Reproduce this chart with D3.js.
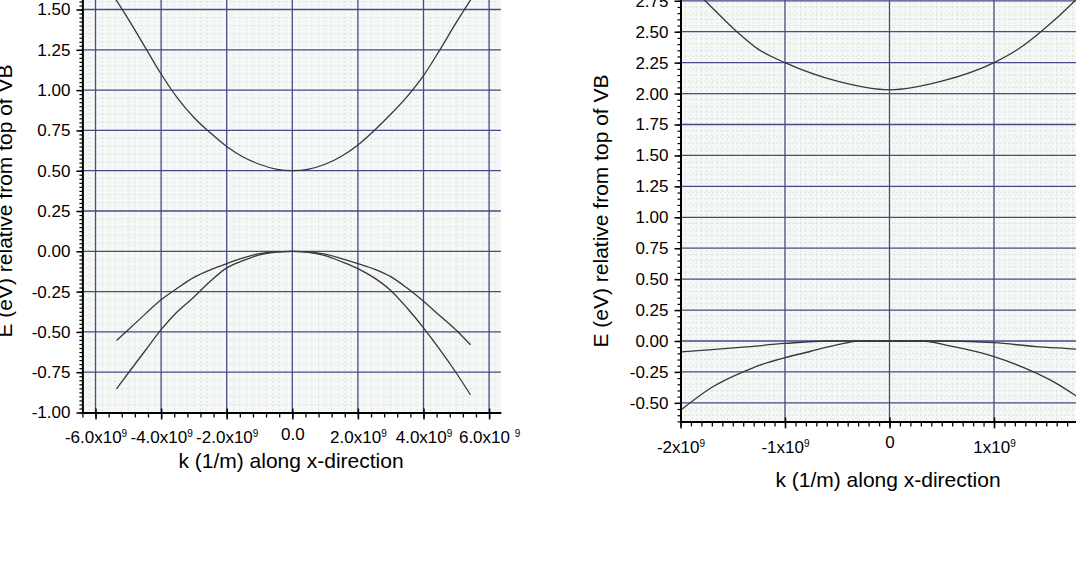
<!DOCTYPE html>
<html>
<head>
<meta charset="utf-8">
<script src="https://cdn.jsdelivr.net/npm/d3@7"></script>
<style>
  body { margin: 0; background: #fff; }
  svg { display: block; font-family: "Liberation Sans", Arial, sans-serif; }
</style>
</head>
<body>
<svg width="1076" height="580"></svg>
<script>
// ---- left panel data (k in units of 1e9 1/m, E in eV) ----
let leftCbK = [-5.5, -5.0, -4.5, -4.0, -3.5, -3.0, -2.5, -2.0, -1.5, -1.0, -0.5, 0, 0.5, 1.0, 1.5, 2.0, 2.5, 3.0, 3.5, 4.0, 4.5, 5.0, 5.5];
let leftCbE = [1.60, 1.44, 1.27, 1.10, 0.95, 0.83, 0.735, 0.65, 0.585, 0.54, 0.51, 0.50, 0.51, 0.54, 0.59, 0.66, 0.75, 0.85, 0.96, 1.09, 1.25, 1.42, 1.58];

let leftLhK = [-5.36, -5.0, -4.7, -4.0, -3.55, -3.0, -2.5, -2.0, -1.5, -1.0, -0.5, 0, 0.5, 1.0, 1.5, 2.0, 2.5, 3.0, 3.5, 4.0, 4.5, 5.0, 5.43];
let leftLhE = [-0.553, -0.486, -0.43, -0.30, -0.235, -0.162, -0.115, -0.076, -0.041, -0.014, -0.003, 0, -0.004, -0.018, -0.045, -0.076, -0.11, -0.157, -0.228, -0.31, -0.40, -0.49, -0.58];

let leftHhK = [-5.36, -5.0, -4.5, -4.0, -3.5, -3.09, -2.5, -2.0, -1.5, -1.0, -0.5, 0, 0.5, 1.0, 1.5, 2.0, 2.5, 3.0, 3.5, 4.0, 4.5, 5.0, 5.43];
let leftHhE = [-0.853, -0.755, -0.62, -0.486, -0.373, -0.30, -0.186, -0.103, -0.058, -0.022, -0.005, 0, -0.006, -0.027, -0.064, -0.107, -0.165, -0.243, -0.352, -0.475, -0.61, -0.755, -0.89];

let leftXTicks = [-6, -4, -2, 0, 2, 4, 6];
let leftXLabels = ["-6.0x10", "-4.0x10", "-2.0x10", "0.0", "2.0x10", "4.0x10", "6.0x10 "];
let leftYTicks = [-1.0, -0.75, -0.5, -0.25, 0, 0.25, 0.5, 0.75, 1.0, 1.25, 1.5];

// ---- right panel data ----
let rightCbK = [-2.0, -1.8, -1.68, -1.46, -1.25, -1.0, -0.5, 0, 0.5, 1.0, 1.25, 1.42, 1.6, 1.75, 2.0];
let rightCbE = [2.95, 2.78, 2.68, 2.50, 2.355, 2.25, 2.10, 2.03, 2.10, 2.25, 2.37, 2.48, 2.61, 2.73, 2.93];

let rightFlatK = [-2.0, -1.7, -1.4, -1.0, -0.6, 0, 0.6, 1.0, 1.4, 1.78, 2.0];
let rightFlatE = [-0.088, -0.07, -0.05, -0.02, 0, 0, 0, -0.014, -0.045, -0.065, -0.08];

let rightSteepK = [-2.0, -1.69, -1.4, -1.24, -1.0, -0.76, -0.6, -0.41, -0.3, 0, 0.32, 0.55, 0.87, 1.0, 1.34, 1.55, 1.78, 2.0];
let rightSteepE = [-0.56, -0.37, -0.25, -0.195, -0.135, -0.085, -0.05, -0.015, 0, 0, 0, -0.035, -0.095, -0.127, -0.235, -0.32, -0.44, -0.57];

let rightXTicks = [-2, -1, 0, 1, 2];
let rightXLabels = ["-2x10", "-1x10", "0", "1x10", ""];
let rightYTicks = [-0.5, -0.25, 0, 0.25, 0.5, 0.75, 1.0, 1.25, 1.5, 1.75, 2.0, 2.25, 2.5, 2.75];

let yTitle = "E (eV) relative from top of VB";
let xTitle = "k (1/m) along x-direction";

let svg = d3.select("svg");

function zip(ks, es) {
  return ks.map(function(k, i) { return {k: k, e: es[i]}; });
}

function drawPanel(p) {
  let x = d3.scaleLinear().domain(p.xDomain).range(p.xRange);
  let y = d3.scaleLinear().domain(p.yDomain).range(p.yRange);
  let g = svg.append("g");

  let x0 = x(p.xDomain[0]), x1 = x(p.xDomain[1]);
  let yb = y(p.yDomain[0]), yt = y(p.yDomain[1]);

  g.append("rect")
    .attr("x", x0).attr("y", yt)
    .attr("width", x1 - x0).attr("height", yb - yt)
    .attr("fill", "#f5f8f6");

  // minor dotted grid
  let half = p.xMinorStep / 2;
  let xMinor = d3.range(p.xDomain[0], p.xDomain[1], half)
    .map(function(v) { return Math.round(v / half) * half; })
    .filter(function(v) { return v > p.xDomain[0]; });
  g.selectAll(".mgx").data(xMinor).enter().append("line")
    .attr("x1", function(d) { return x(d); }).attr("x2", function(d) { return x(d); })
    .attr("y1", yt).attr("y2", yb)
    .style("stroke", "#c4dcac").style("stroke-width", 1)
    .style("stroke-dasharray", "1,3");
  let yMinor = d3.range(p.yDomain[0], p.yDomain[1], p.yGridMinor);
  g.selectAll(".mgy").data(yMinor).enter().append("line")
    .attr("x1", x0).attr("x2", x1)
    .attr("y1", function(d) { return y(d); }).attr("y2", function(d) { return y(d); })
    .style("stroke", "#c6d4e0").style("stroke-width", 1)
    .style("stroke-dasharray", "1,3");

  // major grid
  g.selectAll(".gx").data(p.xTicks.filter(function(d) { return d > p.xDomain[0]; })).enter().append("line")
    .attr("x1", function(d) { return x(d); }).attr("x2", function(d) { return x(d); })
    .attr("y1", yt).attr("y2", yb)
    .style("stroke", "#4a4a88").style("stroke-width", 1.3);
  g.selectAll(".gy").data(p.yTicks.filter(function(d) { return d > p.yDomain[0]; })).enter().append("line")
    .attr("x1", x0).attr("x2", x1)
    .attr("y1", function(d) { return y(d); }).attr("y2", function(d) { return y(d); })
    .style("stroke", "#4a4a88").style("stroke-width", 1.3);

  // curves
  let line = d3.line()
    .x(function(d) { return x(d.k); })
    .y(function(d) { return y(d.e); })
    .curve(d3.curveMonotoneX);
  p.curves.forEach(function(c) {
    g.append("path").datum(c)
      .attr("d", line)
      .attr("fill", "none")
      .style("stroke", "#383838").style("stroke-width", 1.3);
  });

  // x axis: minor then major
  let xMinorTicks = d3.range(p.xDomain[0], p.xDomain[1] + 1e-9, p.xMinorStep)
    .map(function(v) { return Math.round(v / p.xMinorStep) * p.xMinorStep; });
  g.append("g").attr("transform", "translate(0," + yb + ")")
    .call(d3.axisBottom(x).tickValues(xMinorTicks).tickSize(5).tickSizeOuter(0).tickFormat(""))
    .call(function(a) { a.select(".domain").remove(); a.selectAll(".tick line").style("stroke-width", 1.3); });
  let xa = g.append("g").attr("transform", "translate(0," + yb + ")")
    .call(d3.axisBottom(x).tickValues(p.xTicks).tickSize(7).tickSizeOuter(0).tickFormat(""));
  xa.select(".domain").style("stroke-width", 2);
  xa.selectAll(".tick line").attr("y1", -4).style("stroke-width", 1.5);
  xa.selectAll(".tick").each(function(d, i) {
    let lab = p.xLabels[i];
    if (!lab) return;
    let t = d3.select(this).append("text")
      .attr("fill", "#000")
      .attr("font-size", p.tickFont)
      .attr("text-anchor", "middle")
      .attr("y", d === 0 ? p.zeroLabelY : p.xLabelY);
    t.append("tspan").text(lab);
    if (d !== 0) {
      t.append("tspan").text("9").attr("font-size", 10).attr("dy", -6);
    }
  });

  // y axis: minor then major
  let yMinorTicks = d3.range(p.yDomain[0], p.yDomain[1], p.yMinorStep);
  g.append("g").attr("transform", "translate(" + x0 + ",0)")
    .call(d3.axisLeft(y).tickValues(yMinorTicks).tickSize(3).tickSizeOuter(0).tickFormat(""))
    .call(function(a) { a.select(".domain").remove(); a.selectAll(".tick line").style("stroke-width", 1.2); });
  let ya = g.append("g").attr("transform", "translate(" + x0 + ",0)")
    .call(d3.axisLeft(y).tickValues(p.yTicks).tickSize(6).tickSizeOuter(0).tickPadding(6).tickFormat(d3.format(".2f")));
  ya.select(".domain").style("stroke-width", 2);
  ya.selectAll(".tick line").style("stroke-width", 1.5);
  ya.selectAll(".tick text").attr("font-size", 17).attr("fill", "#000")
    .text(function(d) { return d3.format(".2f")(d).replace("−", "-"); });

  // titles
  svg.append("text")
    .attr("x", p.xTitleX).attr("y", p.xTitleY)
    .attr("text-anchor", "middle").attr("font-size", 21)
    .text(xTitle);
  svg.append("text")
    .attr("transform", "translate(" + p.yTitleX + "," + p.yTitleY + ") rotate(-90)")
    .attr("text-anchor", "middle").attr("font-size", 21)
    .text(yTitle);
}

drawPanel({
  xDomain: [-6.4, 6.36], xRange: [82.4, 500.9],
  yDomain: [-1.0, 1.6], yRange: [412.5, -6.6],
  xTicks: leftXTicks, xLabels: leftXLabels, xMinorStep: 0.4,
  yTicks: leftYTicks, yMinorStep: 0.025, yGridMinor: 0.05,
  tickFont: 17, xLabelY: 30, zeroLabelY: 27,
  xTitleX: 291, xTitleY: 468, yTitleX: 12, yTitleY: 201,
  curves: [zip(leftCbK, leftCbE), zip(leftLhK, leftLhE), zip(leftHhK, leftHhE)]
});

drawPanel({
  xDomain: [-2, 2], xRange: [680.5, 1098.5],
  yDomain: [-0.65, 2.8], yRange: [421.4, -5.4],
  xTicks: rightXTicks, xLabels: rightXLabels, xMinorStep: 0.1,
  yTicks: rightYTicks, yMinorStep: 0.05, yGridMinor: 0.05,
  tickFont: 17, xLabelY: 32, zeroLabelY: 27,
  xTitleX: 888, xTitleY: 487, yTitleX: 608, yTitleY: 211,
  curves: [zip(rightCbK, rightCbE), zip(rightFlatK, rightFlatE), zip(rightSteepK, rightSteepE)]
});
</script>
</body>
</html>
